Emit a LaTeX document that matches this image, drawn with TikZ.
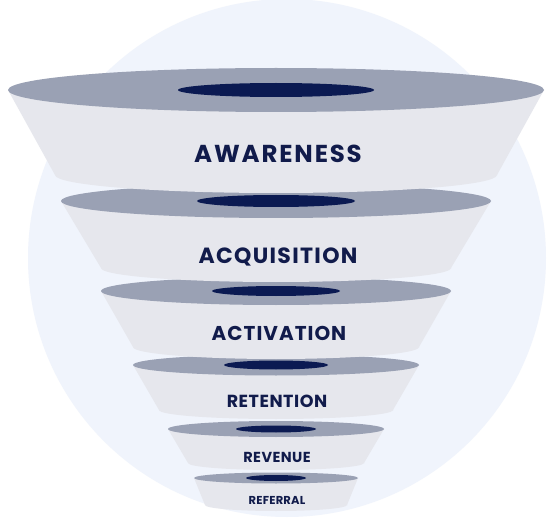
\documentclass[tikz,border=0pt]{standalone}
\usepackage{fontspec}
\setmainfont{Poppins}
\definecolor{bgcircle}{HTML}{F0F4FC}
\definecolor{sidecol}{HTML}{E6E7ED}
\definecolor{rimcol}{HTML}{9AA1B4}
\definecolor{holecol}{HTML}{0B1A52}
\definecolor{txtcol}{HTML}{111B4B}
\newcommand\funneltier[9]{%
  \fill[sidecol] (#1-#3,#2) -- (#1-#6,#5) -- (#1+#6,#5) -- (#1+#3,#2) -- cycle;
  \fill[sidecol] (#1,#5) ellipse [x radius=#6pt, y radius=#7pt];
  \fill[rimcol] (#1,#2) ellipse [x radius=#3pt, y radius=#4pt];
  \fill[holecol] (#1,#2) ellipse [x radius=#8pt, y radius=#9pt];
}
\newcommand\lblsize[2]{\fontsize{#1}{#1}\selectfont\bfseries\addfontfeatures{LetterSpace=#2}}
\begin{document}
\begin{tikzpicture}[x=1pt,y=-1pt,
  lbl/.style={anchor=base, inner sep=0pt, text=txtcol}]
\useasboundingbox (0,0) rectangle (550,519);
\fill[white] (0,0) rectangle (550,519);
\fill[bgcircle] (287,258) circle [radius=259pt];
% tiers, bottom first
\funneltier{276}{478}{82}{5.5}{505}{71}{6}{30}{3}
\funneltier{276}{429}{108}{8}{463}{88}{7}{40}{3.5}
\funneltier{276}{365}{143}{10.5}{410}{117}{9}{52}{4.5}
\funneltier{276}{291}{175}{14}{347}{143}{12}{64}{5}
\funneltier{276}{201}{215}{17}{268}{175}{14}{79}{6}
\funneltier{276}{90}{268}{22}{175}{221}{18}{98}{7}
% labels
\node[lbl, font=\lblsize{24.5}{7.5}] (awareness) at (278,163) {AWARENESS};
\node[lbl, font=\lblsize{22}{6}] (acquisition) at (278,263) {ACQUISITION};
\node[lbl, font=\lblsize{20}{5}] (activation) at (279,340) {ACTIVATION};
\node[lbl, font=\lblsize{17.5}{3}] (retention) at (277,407) {RETENTION};
\node[lbl, font=\lblsize{14.5}{3}] (revenue) at (277,462) {REVENUE};
\node[lbl, font=\lblsize{11.5}{2}] (referral) at (277,504) {REFERRAL};
\end{tikzpicture}
\end{document}
